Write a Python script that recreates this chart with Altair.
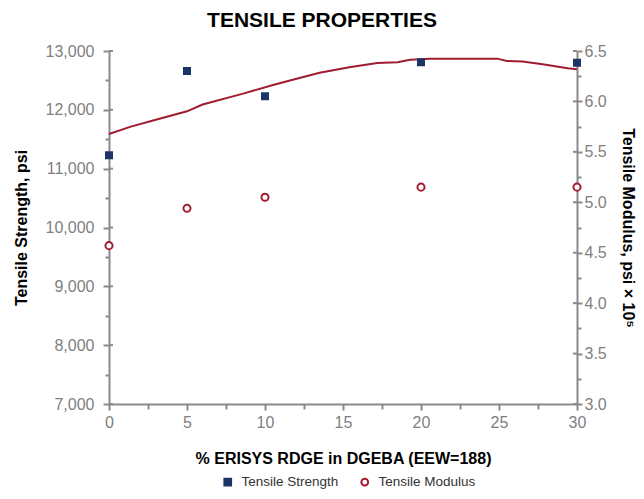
import altair as alt
import pandas as pd

# ---- data ----
x_pts = [0, 5, 10, 20, 30]
strength = [11230, 12660, 12230, 12810, 12800]
modulus = [4.57, 4.94, 5.05, 5.15, 5.15]

line_x = [0, 1.4, 3, 5, 6, 8.6, 10.4, 11.6, 13.5, 15.4, 17.2, 18.5, 19.3, 20.6,
          24.9, 25.5, 26.5, 27.8, 29.4, 30]
line_psi = [11590, 11715, 11830, 11975, 12090, 12275, 12415, 12500, 12630, 12725,
            12795, 12810, 12850, 12870, 12870, 12830, 12820, 12775, 12705, 12690]

x_ticks = [0, 2.5, 5, 7.5, 10, 12.5, 15, 17.5, 20, 22.5, 25, 27.5, 30]
x_major = [0, 5, 10, 15, 20, 25, 30]
left_ticks = [7000, 7500, 8000, 8500, 9000, 9500, 10000, 10500, 11000, 11500,
              12000, 12500, 13000]
left_major = [7000, 8000, 9000, 10000, 11000, 12000, 13000]
right_ticks = [3.0, 3.25, 3.5, 3.75, 4.0, 4.25, 4.5, 4.75, 5.0, 5.25, 5.5, 5.75,
               6.0, 6.25, 6.5]
right_major = [3.0, 3.5, 4.0, 4.5, 5.0, 5.5, 6.0, 6.5]

series_names = ["Tensile Strength", "Tensile Modulus"]

W, H = 468, 353
FONT = "Liberation Sans"
GRAY = "#8a8a8a"
LABEL_GRAY = "#7f7f7f"
NAVY = "#1B3564"
RED = "#A01C30"

df_s = pd.DataFrame({"x": x_pts, "strength": strength, "series": series_names[0]})
df_m = pd.DataFrame({"x": x_pts, "modulus": modulus, "series": series_names[1]})
df_line = pd.DataFrame({"x": line_x, "psi": line_psi})
df_xt = pd.DataFrame({"v": x_major})
df_lt = pd.DataFrame({"v": left_major})
df_rt = pd.DataFrame({"v": right_major})

common_axis = dict(
    labelFont=FONT, labelFontSize=16, labelColor=LABEL_GRAY,
    titleFont=FONT, titleFontSize=16, titleFontWeight="bold", titleColor="black",
    domainColor=GRAY, domainWidth=2, tickColor=GRAY, tickWidth=2,
    grid=False, labelOverlap=False, labelFlush=False,
)

x_axis = alt.Axis(
    values=x_ticks,
    labelExpr="datum.value % 5 === 0 ? format(datum.value, 'd') : ''",
    tickSize={"condition": {"test": "datum.value % 5 === 0", "value": 6}, "value": 5},
    labelPadding=4, titlePadding=20,
    title="% ERISYS RDGE in DGEBA (EEW=188)",
    **common_axis,
)
x_enc = alt.X("x:Q", scale=alt.Scale(domain=[0, 30], nice=False), axis=x_axis)

left_axis = alt.Axis(
    values=left_ticks, orient="left",
    labelExpr="datum.value % 1000 === 0 ? format(datum.value, ',') : ''",
    tickSize={"condition": {"test": "datum.value % 1000 === 0", "value": 6}, "value": 4},
    labelPadding=9, titlePadding=16,
    title="Tensile Strength, psi",
    **common_axis,
)
left_scale = alt.Scale(domain=[7000, 13000], nice=False, zero=False)

right_axis = alt.Axis(
    values=right_ticks, orient="right",
    labelExpr="(datum.value * 2) % 1 === 0 ? format(datum.value, '.1f') : ''",
    tickSize={"condition": {"test": "(datum.value * 2) % 1 === 0", "value": 5}, "value": 4},
    labelPadding=2, titlePadding=13,
    title="Tensile Modulus, psi × 10⁵",
    **common_axis,
)
right_scale = alt.Scale(domain=[3.0, 6.5], nice=False, zero=False)

fill_scale = alt.Scale(domain=series_names, range=[NAVY, "#ffffff"])
stroke_scale = alt.Scale(domain=series_names, range=[NAVY, RED])
shape_scale = alt.Scale(domain=series_names, range=["square", "circle"])

legend = alt.Legend(
    title=None, orient="none", direction="horizontal",
    legendX=112, legendY=424,
    labelFont=FONT, labelFontSize=13.5, labelColor="#333333",
    symbolSize=45, symbolStrokeWidth=2, columnPadding=18, labelOffset=7,
)

def point_encodings():
    return dict(
        fill=alt.Fill("series:N", scale=fill_scale, legend=legend),
        stroke=alt.Stroke("series:N", scale=stroke_scale, legend=legend),
        shape=alt.Shape("series:N", scale=shape_scale, legend=legend),
    )

line = alt.Chart(df_line).mark_line(color=RED, strokeWidth=2).encode(
    x=x_enc,
    y=alt.Y("psi:Q", scale=left_scale, axis=left_axis),
)

squares = alt.Chart(df_s).mark_point(size=36, strokeWidth=2, opacity=1).encode(
    x=x_enc,
    y=alt.Y("strength:Q", scale=left_scale, axis=left_axis),
    **point_encodings(),
)

left_inner = alt.Chart(df_lt).mark_rule(color=GRAY, strokeWidth=2).encode(
    x=alt.value(0), x2=alt.value(4),
    y=alt.Y("v:Q", scale=left_scale, axis=left_axis),
)

x_inner = alt.Chart(df_xt).mark_rule(color=GRAY, strokeWidth=2).encode(
    x=x_enc,
    y=alt.value(H), y2=alt.value(H - 4),
)

circles = alt.Chart(df_m).mark_point(size=50, strokeWidth=2, opacity=1).encode(
    x=x_enc,
    y=alt.Y("modulus:Q", scale=right_scale, axis=right_axis),
    **point_encodings(),
)

right_inner = alt.Chart(df_rt).mark_rule(color=GRAY, strokeWidth=2).encode(
    x=alt.value(W), x2=alt.value(W - 4),
    y=alt.Y("v:Q", scale=right_scale, axis=right_axis),
)

left_layer = alt.layer(line, x_inner, left_inner, squares)
right_layer = alt.layer(right_inner, circles)

chart = alt.layer(left_layer, right_layer).resolve_scale(
    y="independent"
).properties(
    width=W, height=H,
    autosize=alt.AutoSizeParams(type="none"),
    padding={"left": 101, "top": 43, "right": 59, "bottom": 87},
    title=alt.TitleParams(
        "TENSILE PROPERTIES", font=FONT, fontSize=21, fontWeight="bold",
        color="black", anchor="middle", dx=-21, offset=12,
    ),
).configure_view(stroke=None)

chart.save("out.html", embed_options={"renderer": "svg", "actions": False})
